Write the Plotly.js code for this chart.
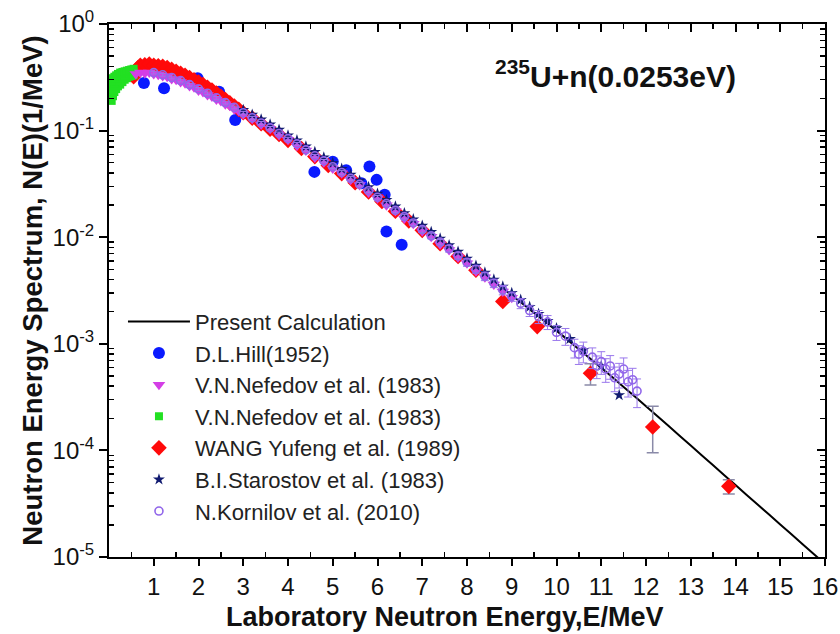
<!DOCTYPE html>
<html>
<head>
<meta charset="utf-8">
<script src="https://cdn.plot.ly/plotly-3.0.1.min.js"></script>
<style>html,body{margin:0;padding:0;background:#fff;}#chart{width:840px;height:634px;}</style>
</head>
<body>
<div id="chart"></div>
<script>
// ---- Present Calculation (line) ----
const calcE = [0.03,0.05,0.1,0.2,0.3,0.4,0.5,0.6,0.7,0.8,1.0,1.25,1.5,1.75,2,2.5,3,3.5,4,4.5,5,5.5,6,6.5,7,7.5,8,8.5,9,9.5,10,10.5,11,11.5,12,12.5,13,13.5,14,14.5,15,15.5,16];
const calcN = [0.18,0.21,0.245,0.29,0.318,0.336,0.347,0.355,0.359,0.36,0.355,0.335,0.31,0.282,0.25,0.197,0.15,0.115,0.086,0.064,0.047,0.034,0.0243,0.0173,0.0122,0.00855,0.00596,0.00412,0.00285,0.00195,0.00133,0.00089,0.000596,0.000394,0.00026,0.00017,0.000111,0.0000724,0.0000473,0.0000309,0.0000202,0.0000132,0.0000086];

// ---- D.L.Hill (1952) ----
const hillE = [0.78,1.23,1.98,2.46,2.82,4.59,5.0,5.3,5.64,5.82,5.98,6.16,6.2,6.54];
const hillN = [0.28,0.25,0.31,0.232,0.126,0.041,0.051,0.0425,0.032,0.046,0.0345,0.025,0.0113,0.0085];

// ---- V.N.Nefedov et al. (1983), triangles ----
const nefTriE = [0.6,0.7,0.8,0.9,1.0,1.1,1.2,1.3,1.4,1.5,1.6,1.7,1.8,1.9,2.0,2.1,2.2,2.3,2.4,2.5,2.6,2.7,2.8,2.9,3.0,3.2,3.4,3.6,3.8,4.0,4.2,4.4,4.6,4.8,5.0,5.2,5.4,5.6,5.8,6.0,6.2,6.4,6.6,6.8,7.0,7.2,7.4,7.6,7.8,8.0,8.2,8.4,8.6,8.8,9.0];
const nefTriN = [0.34,0.35,0.345,0.35,0.34,0.335,0.325,0.32,0.305,0.30,0.285,0.278,0.262,0.255,0.238,0.23,0.216,0.209,0.196,0.19,0.177,0.171,0.159,0.153,0.142,0.129,0.114,0.104,0.091,0.082,0.072,0.065,0.056,0.0505,0.044,0.0398,0.0345,0.0308,0.0263,0.0232,0.0199,0.0176,0.015,0.0134,0.0114,0.0101,0.0086,0.0076,0.0065,0.0057,0.0048,0.0042,0.0036,0.0031,0.0027];

// ---- V.N.Nefedov et al. (1983), squares ----
const nefSqE = [0.06,0.09,0.12,0.16,0.2,0.25,0.3,0.35,0.4,0.45,0.5,0.55,
                0.06,0.09,0.12,0.16,0.2,0.25,0.3,0.35,0.4,0.45,0.5,0.55,
                0.06,0.09,0.12,0.16,0.2,0.25,0.3,0.35,0.4,0.45,0.5,0.55];
const nefSqN = [0.19,0.21,0.23,0.245,0.26,0.27,0.285,0.30,0.31,0.32,0.325,0.33,
                0.24,0.26,0.275,0.29,0.30,0.31,0.32,0.33,0.34,0.345,0.35,0.355,
                0.29,0.31,0.32,0.33,0.34,0.35,0.355,0.36,0.365,0.37,0.375,0.38];

// ---- WANG Yufeng et al. (1989) ----
const wangE = [0.55,0.6,0.65,0.7,0.8,0.9,1.0,1.1,1.2,1.3,1.4,1.5,1.6,1.7,1.8,1.9,2.0,2.1,2.2,2.3,2.4,2.5,2.6,2.7,2.8,2.9,3.0,3.2,3.4,3.6,3.8,4.0,4.3,4.6,4.9,5.2,5.5,5.8,6.1,6.4,6.7,7.0,7.4,7.8,8.2,8.8,9.57,10.76,12.15,13.85];
const wangN = [0.32,0.36,0.39,0.41,0.415,0.42,0.41,0.405,0.40,0.39,0.375,0.36,0.345,0.33,0.315,0.30,0.285,0.27,0.255,0.24,0.225,0.21,0.196,0.182,0.170,0.158,0.147,0.131,0.116,0.103,0.092,0.081,0.068,0.057,0.047,0.0395,0.0325,0.0266,0.0216,0.0175,0.0142,0.0116,0.0087,0.0066,0.0049,0.0025,0.00145,0.00053,0.000166,0.000046];
const wangErrPlus  = [0,0,0,0,0,0,0,0,0,0,0,0,0,0,0,0,0,0,0,0,0,0,0,0,0,0,0,0,0,0,0,0,0,0,0,0,0,0,0,0,0,0,0,0,0,0,0,0.00012,0.000094,0.000007];
const wangErrMinus = [0,0,0,0,0,0,0,0,0,0,0,0,0,0,0,0,0,0,0,0,0,0,0,0,0,0,0,0,0,0,0,0,0,0,0,0,0,0,0,0,0,0,0,0,0,0,0,0.00012,0.000071,0.000007];

// ---- B.I.Starostov et al. (1983) ----
const starE = [3.0,3.2,3.4,3.6,3.8,4.0,4.2,4.4,4.6,4.8,5.0,5.2,5.4,5.6,5.8,6.0,6.2,6.4,6.6,6.8,7.0,7.2,7.4,7.6,7.8,8.0,8.2,8.4,8.6,8.8,9.0,9.2,9.4,9.6,9.8,10.0,10.3,10.6,11.0,11.4];
const starN = [0.156,0.141,0.127,0.114,0.102,0.090,0.081,0.071,0.063,0.056,0.0495,0.0437,0.0385,0.0338,0.0295,0.0256,0.0223,0.0194,0.0168,0.0147,0.0128,0.0112,0.0097,0.0084,0.0073,0.0063,0.0054,0.00465,0.0040,0.00344,0.0030,0.00258,0.00222,0.00191,0.00164,0.0014,0.00111,0.00087,0.00062,0.00033];

// ---- N.Kornilov et al. (2010) ----
const korE = [1.0,1.2,1.4,1.6,1.8,2.0,2.2,2.4,2.6,2.8,3.0,3.2,3.4,3.6,3.8,4.0,4.2,4.4,4.6,4.8,5.0,5.2,5.4,5.6,5.8,6.0,6.2,6.4,6.6,6.8,7.0,7.2,7.4,7.6,7.8,8.0,8.2,8.4,8.6,8.8,9.0,9.2,9.4,9.6,9.8,10.0,10.2,10.4,10.5,10.6,10.8,10.9,11.0,11.1,11.2,11.3,11.4,11.5,11.6,11.7,11.8];
const korN = [0.35,0.334,0.315,0.295,0.27,0.246,0.224,0.203,0.183,0.165,0.147,0.132,0.118,0.106,0.094,0.084,0.075,0.066,0.058,0.052,0.0458,0.0405,0.0356,0.0313,0.0273,0.0237,0.0207,0.0179,0.0156,0.0136,0.0118,0.0103,0.0090,0.0078,0.0067,0.0058,0.0050,0.0043,0.0037,0.0032,0.00278,0.0024,0.00205,0.0018,0.0016,0.00128,0.00118,0.00092,0.0008,0.00085,0.00075,0.00062,0.00068,0.00058,0.00062,0.00048,0.00052,0.00058,0.00044,0.00046,0.00036];
const korErrPct = [3,3,3,3,3,3,3,3,3,3,3,3,3,3,3,3,3,3,3,3,4,4,4,4,4,4,5,5,5,5,6,6,6,7,7,8,8,9,9,10,10,11,12,14,15,16,18,20,20,22,22,24,24,25,25,26,26,27,28,28,30];

const yTickVals = [1,0.1,0.01,0.001,0.0001,0.00001];
const yTickText = ['10<sup>0</sup>','10<sup>-1</sup>','10<sup>-2</sup>','10<sup>-3</sup>','10<sup>-4</sup>','10<sup>-5</sup>'];
const xTickVals = [1,2,3,4,5,6,7,8,9,10,11,12,13,14,15,16];

const FONT = 'Liberation Sans, Arial, sans-serif';

// minor tick positions
const yMinor = [];
for (let d = -5; d < 0; d++) for (let k = 2; k <= 9; k++) yMinor.push(k * Math.pow(10, d));
const xMinor = [];
for (let i = 0; i < 16; i++) xMinor.push(i + 0.5);

// drawing order differs from legend order (legendrank keeps the legend as in the reference)
const traces = [
  {x: calcE, y: calcN, type: 'scatter', mode: 'lines', name: 'Present Calculation', legendrank: 1,
   line: {color: '#000', width: 2, shape: 'spline', smoothing: 0.6}},
  {x: hillE, y: hillN, type: 'scatter', mode: 'markers', name: 'D.L.Hill(1952)', legendrank: 2,
   marker: {symbol: 'circle', size: 12, color: '#0a1aff'}},
  {x: wangE, y: wangN, type: 'scatter', mode: 'markers', name: 'WANG Yufeng et al. (1989)', legendrank: 5,
   marker: {symbol: 'diamond', size: 12, color: '#ff0a0a'},
   error_y: {type: 'data', symmetric: false, array: wangErrPlus, arrayminus: wangErrMinus, color: '#8a8aa8', thickness: 1.5, width: 6}},
  {x: nefSqE, y: nefSqN, type: 'scatter', mode: 'markers', name: 'V.N.Nefedov et al. (1983)', legendrank: 4,
   marker: {symbol: 'square', size: 8, color: '#22e022'}},
  {x: nefTriE, y: nefTriN, type: 'scatter', mode: 'markers', name: 'V.N.Nefedov et al. (1983)', legendrank: 3,
   marker: {symbol: 'triangle-down', size: 11, color: '#d43ee6'}},
  {x: starE, y: starN, type: 'scatter', mode: 'markers', name: 'B.I.Starostov et al. (1983)', legendrank: 6,
   marker: {symbol: 'star', size: 9, color: '#101a70'}},
  {x: korE, y: korN, type: 'scatter', mode: 'markers', name: 'N.Kornilov et al. (2010)', legendrank: 7,
   marker: {symbol: 'circle-open', size: 8, color: '#9166ea', line: {width: 1.6}},
   error_y: {type: 'data', array: korN.map((v, i) => v * korErrPct[i] / 100), color: '#9a78ec', thickness: 1, width: 4}}
];

const axisCommon = {
  showgrid: false, zeroline: false, showline: true, linecolor: '#000', linewidth: 2
};

const layout = {
  width: 840, height: 634,
  margin: {l: 109, r: 15, t: 24, b: 77},
  paper_bgcolor: '#fff', plot_bgcolor: '#fff',
  font: {family: FONT, color: '#111'},
  showlegend: true,
  legend: {x: 0.0195, y: 0.481, xanchor: 'left', yanchor: 'top', bgcolor: 'rgba(0,0,0,0)',
           font: {family: FONT, size: 22, color: '#222'}, tracegroupgap: 0, itemwidth: 62},
  xaxis: Object.assign({}, axisCommon, {
    range: [0, 16], tickmode: 'array', tickvals: xTickVals,
    ticks: 'outside', ticklen: 7, tickwidth: 2, tickcolor: '#000',
    tickfont: {family: FONT, size: 24, color: '#111'},
    minor: {tickmode: 'array', tickvals: xMinor, ticks: 'inside', ticklen: 5, tickwidth: 1.5, tickcolor: '#000', showgrid: false}
  }),
  yaxis: Object.assign({}, axisCommon, {
    type: 'log', range: [-5, 0], tickmode: 'array', tickvals: yTickVals, ticktext: yTickText,
    ticks: 'outside', ticklen: 8, tickwidth: 2, tickcolor: '#000',
    tickfont: {family: FONT, size: 24, color: '#111'},
    minor: {tickmode: 'array', tickvals: yMinor, ticks: 'inside', ticklen: 5, tickwidth: 1.5, tickcolor: '#000', showgrid: false},
    title: {text: '<b>Neutron Energy Spectrum, N(E)(1/MeV)</b>', font: {family: FONT, size: 27.5, color: '#111'}, standoff: 2}
  }),
  xaxis2: Object.assign({}, axisCommon, {
    overlaying: 'x', side: 'top', anchor: 'y', range: [0, 16], tickmode: 'array', tickvals: xTickVals,
    showticklabels: false, ticks: 'inside', ticklen: 8, tickwidth: 2, tickcolor: '#000',
    minor: {tickmode: 'array', tickvals: xMinor, ticks: 'inside', ticklen: 5, tickwidth: 1.5, tickcolor: '#000'}
  }),
  yaxis2: Object.assign({}, axisCommon, {
    overlaying: 'y', side: 'right', anchor: 'x', type: 'log', range: [-5, 0], tickmode: 'array', tickvals: yTickVals,
    showticklabels: false, ticks: 'inside', ticklen: 8, tickwidth: 2, tickcolor: '#000',
    minor: {tickmode: 'array', tickvals: yMinor, ticks: 'inside', ticklen: 5, tickwidth: 1.5, tickcolor: '#000'}
  }),
  annotations: [
    {xref: 'paper', yref: 'paper', x: 0.708, y: 0.906, xanchor: 'center', yanchor: 'middle',
     text: '<b><sup>235</sup>U+n(0.0253eV)</b>', showarrow: false,
     font: {family: FONT, size: 30, color: '#111'}},
    {xref: 'paper', yref: 'paper', x: 0.469, y: -0.113, xanchor: 'center', yanchor: 'middle',
     text: '<b>Laboratory Neutron Energy,E/MeV</b>', showarrow: false,
     font: {family: FONT, size: 27, color: '#111'}}
  ]
};

// invisible helper trace so the mirrored axes are drawn
traces.push({x: [1], y: [0.1], xaxis: 'x2', yaxis: 'y2', type: 'scatter', mode: 'markers',
             marker: {opacity: 0}, showlegend: false, hoverinfo: 'skip'});

Plotly.newPlot('chart', traces, layout, {staticPlot: true, displayModeBar: false});
</script>
</body>
</html>
